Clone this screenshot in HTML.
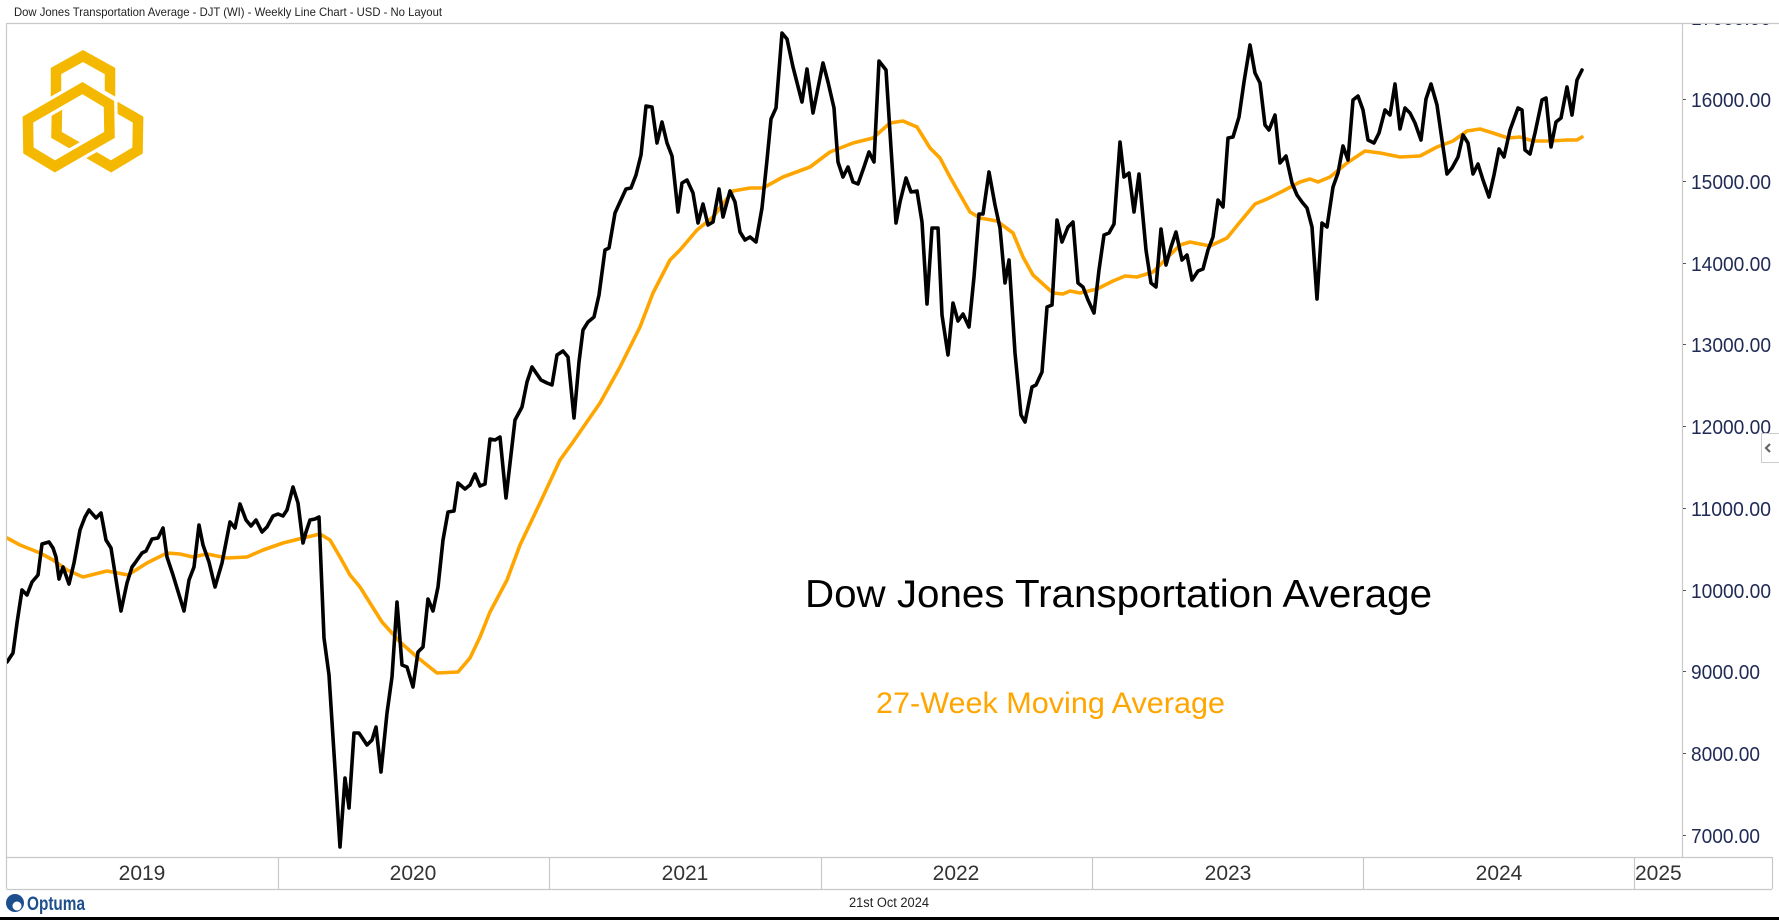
<!DOCTYPE html>
<html><head><meta charset="utf-8"><style>
html,body{margin:0;padding:0;background:#fff;}
svg{display:block;}
text{font-family:"Liberation Sans",sans-serif;}
</style></head><body>
<svg width="1779" height="920" viewBox="0 0 1779 920" xmlns="http://www.w3.org/2000/svg">
<rect x="0" y="0" width="1779" height="920" fill="#fff"/>
<text x="14" y="16" font-size="12" fill="#222" textLength="428" lengthAdjust="spacingAndGlyphs">Dow Jones Transportation Average - DJT (WI) - Weekly Line Chart - USD - No Layout</text>

<!-- panel borders -->
<line x1="6.5" y1="23.5" x2="1779" y2="23.5" stroke="#c8c8c8" stroke-width="1.2"/>
<line x1="6.5" y1="23" x2="6.5" y2="889" stroke="#c8c8c8" stroke-width="1.2"/>
<line x1="1682.5" y1="23" x2="1682.5" y2="857" stroke="#c8c8c8" stroke-width="1.2"/>
<line x1="6.5" y1="857.5" x2="1772" y2="857.5" stroke="#c8c8c8" stroke-width="1.2"/>
<line x1="6.5" y1="889.5" x2="1772" y2="889.5" stroke="#c8c8c8" stroke-width="1.2"/>
<line x1="1772.5" y1="857" x2="1772.5" y2="889" stroke="#c8c8c8" stroke-width="1.2"/>
<g stroke="#c8c8c8" stroke-width="1.2">
<line x1="278.5" y1="857" x2="278.5" y2="889"/>
<line x1="549.5" y1="857" x2="549.5" y2="889"/>
<line x1="821.5" y1="857" x2="821.5" y2="889"/>
<line x1="1092.5" y1="857" x2="1092.5" y2="889"/>
<line x1="1363.5" y1="857" x2="1363.5" y2="889"/>
<line x1="1634.5" y1="857" x2="1634.5" y2="889"/>
</g>

<!-- year labels -->
<g font-size="21" fill="#333" text-anchor="middle">
<text x="142" y="880">2019</text>
<text x="413" y="880">2020</text>
<text x="685" y="880">2021</text>
<text x="956" y="880">2022</text>
<text x="1228" y="880">2023</text>
<text x="1499" y="880">2024</text>
</g>
<text x="1635" y="880" font-size="21" fill="#333">2025</text>

<!-- y axis labels -->
<defs><clipPath id="yc"><rect x="1683" y="24" width="96" height="833"/></clipPath></defs>
<g clip-path="url(#yc)" font-size="20" fill="#1f2a55">
<g stroke="#555" stroke-width="1">
<line x1="1682" y1="17.5" x2="1686" y2="17.5"/>
<line x1="1682" y1="99.5" x2="1686" y2="99.5"/>
<line x1="1682" y1="181.5" x2="1686" y2="181.5"/>
<line x1="1682" y1="263.5" x2="1686" y2="263.5"/>
<line x1="1682" y1="344.5" x2="1686" y2="344.5"/>
<line x1="1682" y1="426.5" x2="1686" y2="426.5"/>
<line x1="1682" y1="508.5" x2="1686" y2="508.5"/>
<line x1="1682" y1="590.5" x2="1686" y2="590.5"/>
<line x1="1682" y1="671.5" x2="1686" y2="671.5"/>
<line x1="1682" y1="753.5" x2="1686" y2="753.5"/>
<line x1="1682" y1="835.5" x2="1686" y2="835.5"/>
</g>
<text x="1691" y="25" textLength="80" lengthAdjust="spacingAndGlyphs">17000.00</text>
<text x="1691" y="107" textLength="80" lengthAdjust="spacingAndGlyphs">16000.00</text>
<text x="1691" y="189" textLength="80" lengthAdjust="spacingAndGlyphs">15000.00</text>
<text x="1691" y="271" textLength="80" lengthAdjust="spacingAndGlyphs">14000.00</text>
<text x="1691" y="352" textLength="80" lengthAdjust="spacingAndGlyphs">13000.00</text>
<text x="1691" y="434" textLength="80" lengthAdjust="spacingAndGlyphs">12000.00</text>
<text x="1691" y="516" textLength="80" lengthAdjust="spacingAndGlyphs">11000.00</text>
<text x="1691" y="598" textLength="80" lengthAdjust="spacingAndGlyphs">10000.00</text>
<text x="1691" y="679" textLength="69" lengthAdjust="spacingAndGlyphs">9000.00</text>
<text x="1691" y="761" textLength="69" lengthAdjust="spacingAndGlyphs">8000.00</text>
<text x="1691" y="843" textLength="69" lengthAdjust="spacingAndGlyphs">7000.00</text>
</g>

<!-- scroll button -->
<rect x="1761.5" y="433.5" width="20" height="29" fill="#fff" stroke="#ccc" stroke-width="1"/>
<polyline points="1770,444 1766,448 1770,452" fill="none" stroke="#666" stroke-width="2.2"/>

<!-- logo -->
<g fill="none" stroke-linejoin="miter">
<polygon points="83,56 110,71 110,134 83,149 56,134 56,71" stroke="#F5B800" stroke-width="10.5"/>
<polygon points="83,56 110,71 110,134 83,149 56,134 56,71" transform="rotate(120 83 119)" stroke="#fff" stroke-width="17"/>
<polygon points="83,56 110,71 110,134 83,149 56,134 56,71" transform="rotate(120 83 119)" stroke="#F5B800" stroke-width="10.5"/>
<polygon points="83,56 110,71 110,134 83,149 56,134 56,71" transform="rotate(240 83 119)" stroke="#fff" stroke-width="17"/>
<polygon points="83,56 110,71 110,134 83,149 56,134 56,71" transform="rotate(240 83 119)" stroke="#F5B800" stroke-width="10.5"/>
</g>

<!-- chart lines -->
<defs><clipPath id="pc"><rect x="7" y="24" width="1675" height="833"/></clipPath></defs>
<g clip-path="url(#pc)" fill="none" stroke-linejoin="round" stroke-linecap="round">
<polyline stroke="#FFA500" stroke-width="3.6" points="7,538 20,545 40,553 53,560 67,570 83,577 107,571 128,575 147,563 167,553 180,554 193,557 207,554 227,558 247,557 263,550 283,543 303,538 320,534 330,540 340,557 350,575 360,587 370,603 382,622 400,642 417,657 437,673 458,672 470,658 480,637 490,612 507,580 520,545 540,503 560,460 573,442 600,403 620,367 640,327 653,293 670,260 680,250 697,230 713,217 733,191 750,188 763,188 783,177 810,167 830,152 853,143 873,138 890,123 903,121 917,127 930,148 940,158 950,177 970,212 980,218 997,221 1013,233 1023,257 1033,275 1053,293 1063,294 1070,291 1080,293 1097,289 1113,281 1125,276 1137,277 1153,272 1167,258 1180,245 1190,242 1210,246 1227,238 1240,222 1255,204 1267,199 1283,191 1300,182 1310,179 1318,182 1330,177 1347,163 1365,151 1380,153 1400,157 1420,156 1437,147 1453,141 1467,131 1480,129 1493,133 1508,138 1520,137 1533,141 1550,141 1567,140 1577,140 1582,137"/>
<polyline stroke="#000" stroke-width="3.6" points="7,662 13,653 17,623 22,590 27,595 32,582 38,575 42,544 49,542 53,548 56,557 59,579 63,567 69,584 74,563 80,530 85,517 89,510 96,518 101,513 106,540 111,548 121,611 127,583 132,567 135,563 142,553 146,551 152,539 158,538 163,528 167,557 173,575 184,611 189,580 194,567 199,525 203,545 209,562 215,587 222,563 230,522 235,528 240,504 246,520 251,526 256,520 262,532 267,527 273,516 278,514 283,516 287,510 293,487 298,503 303,543 306,532 310,520 315,519 319,517 324,638 329,675 340,847 345,778 349,808 354,733 359,733 367,745 372,740 376,727 381,772 387,713 392,677 397,602 402,665 407,667 413,687 418,652 423,647 428,599 433,611 438,587 443,540 448,512 454,511 458,483 465,489 470,485 475,474 480,486 485,484 490,439 495,440 500,437 506,498 515,420 522,407 527,382 532,367 541,380 547,383 552,385 557,355 563,351 568,357 574,418 579,362 583,330 588,322 594,317 599,295 605,250 609,248 615,213 620,202 626,189 631,188 636,175 641,155 646,106 652,107 657,143 662,122 667,143 672,156 678,212 682,183 687,180 693,193 698,223 703,204 708,225 713,222 719,189 723,217 730,191 735,202 740,232 745,240 750,237 756,242 762,208 767,160 771,119 776,108 782,33 787,39 793,67 802,102 807,69 813,113 823,63 828,82 834,108 838,162 843,177 848,167 853,182 858,184 864,167 869,152 874,162 879,61 886,70 891,148 896,223 900,202 906,178 911,192 917,191 922,222 927,304 932,228 938,228 942,315 948,355 953,303 958,321 963,314 969,327 974,277 979,214 983,214 989,172 995,205 1000,228 1005,283 1009,260 1015,353 1021,415 1025,422 1032,387 1036,385 1042,372 1047,307 1052,305 1057,220 1062,242 1068,227 1073,222 1078,283 1083,287 1088,300 1094,313 1099,270 1104,235 1109,233 1114,224 1120,142 1124,177 1129,173 1134,212 1139,174 1146,250 1151,283 1156,287 1161,229 1166,265 1171,247 1176,232 1182,260 1187,255 1192,280 1198,271 1203,269 1208,250 1213,237 1218,200 1223,207 1228,138 1233,137 1239,117 1244,82 1250,45 1255,73 1260,83 1265,125 1269,130 1275,115 1280,163 1286,156 1292,183 1297,195 1302,202 1307,208 1312,227 1317,299 1322,223 1327,227 1333,187 1338,173 1343,146 1348,160 1353,100 1358,96 1363,110 1368,140 1374,143 1379,133 1385,110 1390,115 1395,84 1400,129 1405,108 1410,113 1415,123 1421,140 1426,99 1431,84 1437,105 1442,140 1447,174 1452,168 1458,157 1463,135 1468,143 1473,174 1478,164 1483,180 1489,197 1494,175 1499,149 1504,157 1510,130 1518,108 1522,110 1525,150 1530,154 1535,133 1542,100 1546,98 1551,147 1556,122 1561,118 1567,87 1572,115 1577,80 1582,70"/>
</g>

<!-- annotations -->
<text x="805" y="607" font-size="39" fill="#000" textLength="627" lengthAdjust="spacingAndGlyphs">Dow Jones Transportation Average</text>
<text x="876" y="713" font-size="30" fill="#FFA500" textLength="349" lengthAdjust="spacingAndGlyphs">27-Week Moving Average</text>

<!-- footer -->
<circle cx="15" cy="903" r="9" fill="#1d4f8c"/>
<circle cx="17" cy="906" r="4.5" fill="#fff"/>
<text x="27" y="910" font-size="19" font-weight="bold" fill="#1d4f8c" textLength="58" lengthAdjust="spacingAndGlyphs">Optuma</text>
<text x="849" y="907" font-size="13.5" fill="#222" textLength="80" lengthAdjust="spacingAndGlyphs">21st Oct 2024</text>
<rect x="0" y="917" width="1779" height="3" fill="#000"/>
</svg>
</body></html>
